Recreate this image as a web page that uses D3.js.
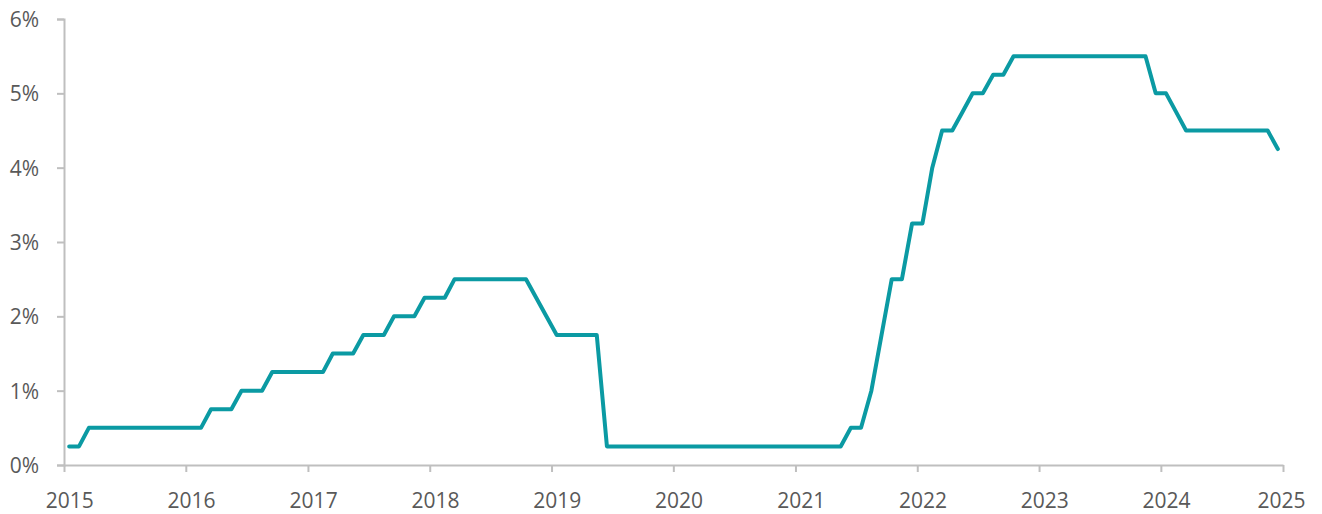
<!DOCTYPE html>
<html>
<head>
<meta charset="utf-8">
<script src="https://cdn.jsdelivr.net/npm/d3@7"></script>
<style>
  html, body { margin: 0; padding: 0; background: #ffffff; }
  svg { display: block; }
  text { font-family: "Open Sans", "Noto Sans", sans-serif; }
</style>
</head>
<body>
<svg id="chart" width="1322" height="514"></svg>
<script>
// ---- Data (monthly, Jan 2015 – Dec 2024), rate in % ----
const startMonth = "2015-01";
const rate2015 = [0.25, 0.25, 0.5, 0.5, 0.5, 0.5, 0.5, 0.5, 0.5, 0.5, 0.5, 0.5];
const rate2016 = [0.5, 0.5, 0.75, 0.75, 0.75, 1.0, 1.0, 1.0, 1.25, 1.25, 1.25, 1.25];
const rate2017 = [1.25, 1.25, 1.5, 1.5, 1.5, 1.75, 1.75, 1.75, 2.0, 2.0, 2.0, 2.25];
const rate2018 = [2.25, 2.25, 2.5, 2.5, 2.5, 2.5, 2.5, 2.5, 2.5, 2.5, 2.25, 2.0];
const rate2019 = [1.75, 1.75, 1.75, 1.75, 1.75, 0.25, 0.25, 0.25, 0.25, 0.25, 0.25, 0.25];
const rate2020 = [0.25, 0.25, 0.25, 0.25, 0.25, 0.25, 0.25, 0.25, 0.25, 0.25, 0.25, 0.25];
const rate2021 = [0.25, 0.25, 0.25, 0.25, 0.25, 0.5, 0.5, 1.0, 1.75, 2.5, 2.5, 3.25];
const rate2022 = [3.25, 4.0, 4.5, 4.5, 4.75, 5.0, 5.0, 5.25, 5.25, 5.5, 5.5, 5.5];
const rate2023 = [5.5, 5.5, 5.5, 5.5, 5.5, 5.5, 5.5, 5.5, 5.5, 5.5, 5.5, 5.0];
const rate2024 = [5.0, 4.75, 4.5, 4.5, 4.5, 4.5, 4.5, 4.5, 4.5, 4.5, 4.5, 4.25];
const rates = [].concat(rate2015, rate2016, rate2017, rate2018, rate2019,
                        rate2020, rate2021, rate2022, rate2023, rate2024);

const yearTicks = [2015, 2016, 2017, 2018, 2019, 2020, 2021, 2022, 2023, 2024, 2025];
const yTicks = [0, 1, 2, 3, 4, 5, 6];

// ---- Layout ----
const W = 1322, H = 514;
const margin = { top: 19, right: 39, bottom: 49, left: 64 };
const axisColor = "#BFBFBF";
const textColor = "#595959";
const lineColor = "#0B9AA3";
const fontSize = 21;

const svg = d3.select("#chart");

const parseMonth = d3.utcParse("%Y-%m");
const firstMonth = parseMonth(startMonth);
const monthStarts = rates.map((_, i) => d3.utcMonth.offset(firstMonth, i));
const midMonth = m => new Date((m.getTime() + d3.utcMonth.offset(m, 1).getTime()) / 2);

const data = rates.map((v, i) => ({ date: midMonth(monthStarts[i]), value: v }));

const x = d3.scaleUtc()
  .domain([new Date(Date.UTC(yearTicks[0], 0, 1)), new Date(Date.UTC(yearTicks[yearTicks.length - 1], 0, 1))])
  .range([margin.left, W - margin.right]);

const y = d3.scaleLinear()
  .domain([0, 6])
  .range([H - margin.bottom, margin.top]);

// ---- Y axis ----
const yAxis = d3.axisLeft(y)
  .tickValues(yTicks)
  .tickSize(7)
  .tickPadding(18)
  .tickFormat(d => d + "%");

const gy = svg.append("g")
  .attr("transform", `translate(${margin.left},0)`)
  .call(yAxis);
gy.select(".domain").attr("stroke", axisColor).attr("stroke-width", 2);
gy.selectAll(".tick line").attr("stroke", axisColor).attr("stroke-width", 2);
gy.selectAll(".tick text")
  .attr("fill", textColor)
  .attr("font-size", fontSize)
  .attr("dy", "0.36em")
  .style("font-family", "'Open Sans', 'Noto Sans', sans-serif");

// ---- X axis ----
const xAxis = d3.axisBottom(x)
  .tickValues(yearTicks.map(yr => new Date(Date.UTC(yr, 0, 1))))
  .tickSize(7)
  .tickSizeOuter(0)
  .tickPadding(21)
  .tickFormat(d3.utcFormat("%Y"));

const gx = svg.append("g")
  .attr("transform", `translate(0,${H - margin.bottom})`)
  .call(xAxis);
gx.select(".domain").attr("stroke", axisColor).attr("stroke-width", 2);
gx.selectAll(".tick line").attr("stroke", axisColor).attr("stroke-width", 2);
gx.selectAll(".tick text")
  .attr("fill", textColor)
  .attr("font-size", fontSize)
  .style("font-family", "'Open Sans', 'Noto Sans', sans-serif")
  .attr("dx", function (d) {
    // labels sit at the mid-January position (category centre)
    const shift = x(midMonth(d)) - x(d);
    const half = this.getComputedTextLength() / 2;
    const cx = x(d) + shift;
    const maxRight = W - 17;
    const adj = Math.min(cx + half, maxRight) - half - x(d);
    return adj;
  });

// ---- Line ----
const line = d3.line()
  .x(d => x(d.date))
  .y(d => y(d.value));

svg.append("path")
  .datum(data)
  .attr("fill", "none")
  .attr("stroke", lineColor)
  .attr("stroke-width", 4)
  .attr("stroke-linejoin", "round")
  .attr("stroke-linecap", "round")
  .attr("d", line);
</script>
</body>
</html>
